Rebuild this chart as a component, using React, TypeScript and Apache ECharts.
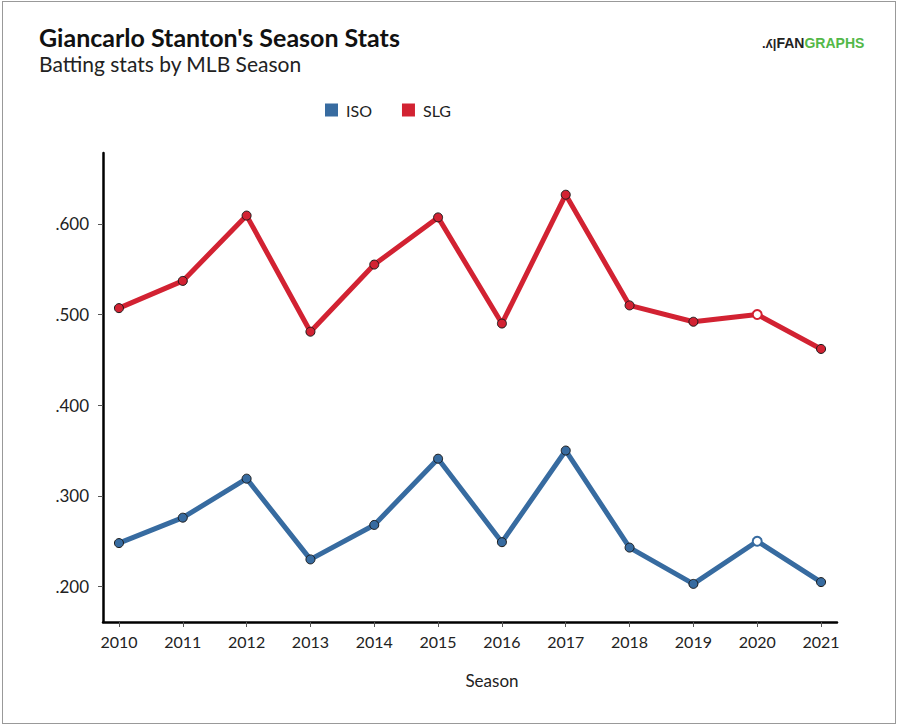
import { useRef, useEffect } from 'react';
import * as echarts from 'echarts';

const seasons = [2010, 2011, 2012, 2013, 2014, 2015, 2016, 2017, 2018, 2019, 2020, 2021];
const iso = [0.248, 0.276, 0.319, 0.230, 0.268, 0.341, 0.249, 0.350, 0.243, 0.203, 0.250, 0.205];
const slg = [0.507, 0.537, 0.609, 0.481, 0.555, 0.607, 0.490, 0.632, 0.510, 0.492, 0.500, 0.462];
const yTicks = [0.2, 0.3, 0.4, 0.5, 0.6];
// short season, drawn hollow
const hollowSeason = 2020;

const ISO_COLOR = '#376ba0';
const SLG_COLOR = '#d22232';
const FONT = 'Lato';

function points(values: number[], color: string) {
  return values.map((v, i) => {
    const hollow = seasons[i] === hollowSeason;
    return {
      value: [seasons[i], v],
      itemStyle: hollow
        ? { color: '#fff', borderColor: color, borderWidth: 2 }
        : { color, borderColor: '#1a1a1a', borderWidth: 1 },
    };
  });
}

function lineSeries(name: string, values: number[], color: string) {
  return {
    type: 'line', name, data: points(values, color),
    symbol: 'circle', symbolSize: 9, showAllSymbol: true,
    lineStyle: { color, width: 5 },
    itemStyle: { color },
    emphasis: { disabled: true },
  };
}

export default function App() {
  const ref = useRef<HTMLDivElement>(null);

  useEffect(() => {
    document.body.style.margin = '0';
    if (!ref.current) return;
    const chart = echarts.init(ref.current, undefined, { renderer: 'svg', width: 899, height: 727 });
    chart.setOption({
      animation: false,
      backgroundColor: '#fff',
      textStyle: { fontFamily: FONT },
      title: {
        text: "Giancarlo Stanton's Season Stats",
        subtext: 'Batting stats by MLB Season',
        left: 34, top: 19, itemGap: 4,
        textStyle: { fontFamily: FONT, fontSize: 25, fontWeight: 'bold', color: '#111' },
        subtextStyle: { fontFamily: FONT, fontSize: 21, color: '#222' },
      },
      legend: {
        left: 320, top: 97, icon: 'rect', itemWidth: 13, itemHeight: 13, itemGap: 30,
        textStyle: { fontFamily: FONT, fontSize: 16, color: '#222', padding: [0, 0, 0, 3] },
        data: ['ISO', 'SLG'],
        selectedMode: false,
      },
      graphic: [
        {
          type: 'text', left: 762, top: 36,
          style: {
            text: '{a|.ʎ|}{b|FAN}{c|GRAPHS}',
            rich: {
              a: { fontFamily: 'Liberation Sans', fontWeight: 'bold', fontSize: 13, fill: '#222' },
              b: { fontFamily: 'Liberation Sans', fontWeight: 'bold', fontSize: 14, fill: '#222' },
              c: { fontFamily: 'Liberation Sans', fontWeight: 'bold', fontSize: 14, fill: '#53b848' },
            },
          },
        },
      ],
      grid: { left: 103, right: 62, top: 153, bottom: 105 },
      xAxis: {
        type: 'value', min: 2009.75, max: 2021.25,
        name: 'Season', nameLocation: 'middle', nameGap: 50,
        nameTextStyle: { fontFamily: FONT, fontSize: 17, color: '#222', padding: [0, 0, 0, 44] },
        axisLine: { show: true, lineStyle: { color: '#000', width: 2.5 } },
        axisTick: { show: true, length: 5, customValues: seasons, lineStyle: { color: '#555' } },
        axisLabel: {
          customValues: seasons, margin: 11,
          fontFamily: FONT, fontSize: 16, color: '#222',
          formatter: (v: number) => String(v),
        },
        splitLine: { show: false },
      },
      yAxis: {
        type: 'value', min: 0.161, max: 0.678,
        axisLine: { show: true, lineStyle: { color: '#000', width: 2.5 } },
        axisTick: { show: true, length: 5, customValues: yTicks, lineStyle: { color: '#555' } },
        axisLabel: {
          customValues: yTicks, margin: 14,
          fontFamily: FONT, fontSize: 17, color: '#222',
          formatter: (v: number) => v.toFixed(3).replace(/^0/, ''),
        },
        splitLine: { show: false },
      },
      series: [
        lineSeries('ISO', iso, ISO_COLOR),
        lineSeries('SLG', slg, SLG_COLOR),
      ],
    });
    return () => chart.dispose();
  }, []);

  return (
    <div style={{ position: 'relative', width: 899, height: 727 }}>
      <div ref={ref} style={{ position: 'absolute', left: 0, top: 0, width: 899, height: 727 }} />
      <div style={{
        position: 'absolute', left: 2, top: 1, width: 892, height: 721,
        border: '1px solid #999', pointerEvents: 'none',
      }} />
    </div>
  );
}
